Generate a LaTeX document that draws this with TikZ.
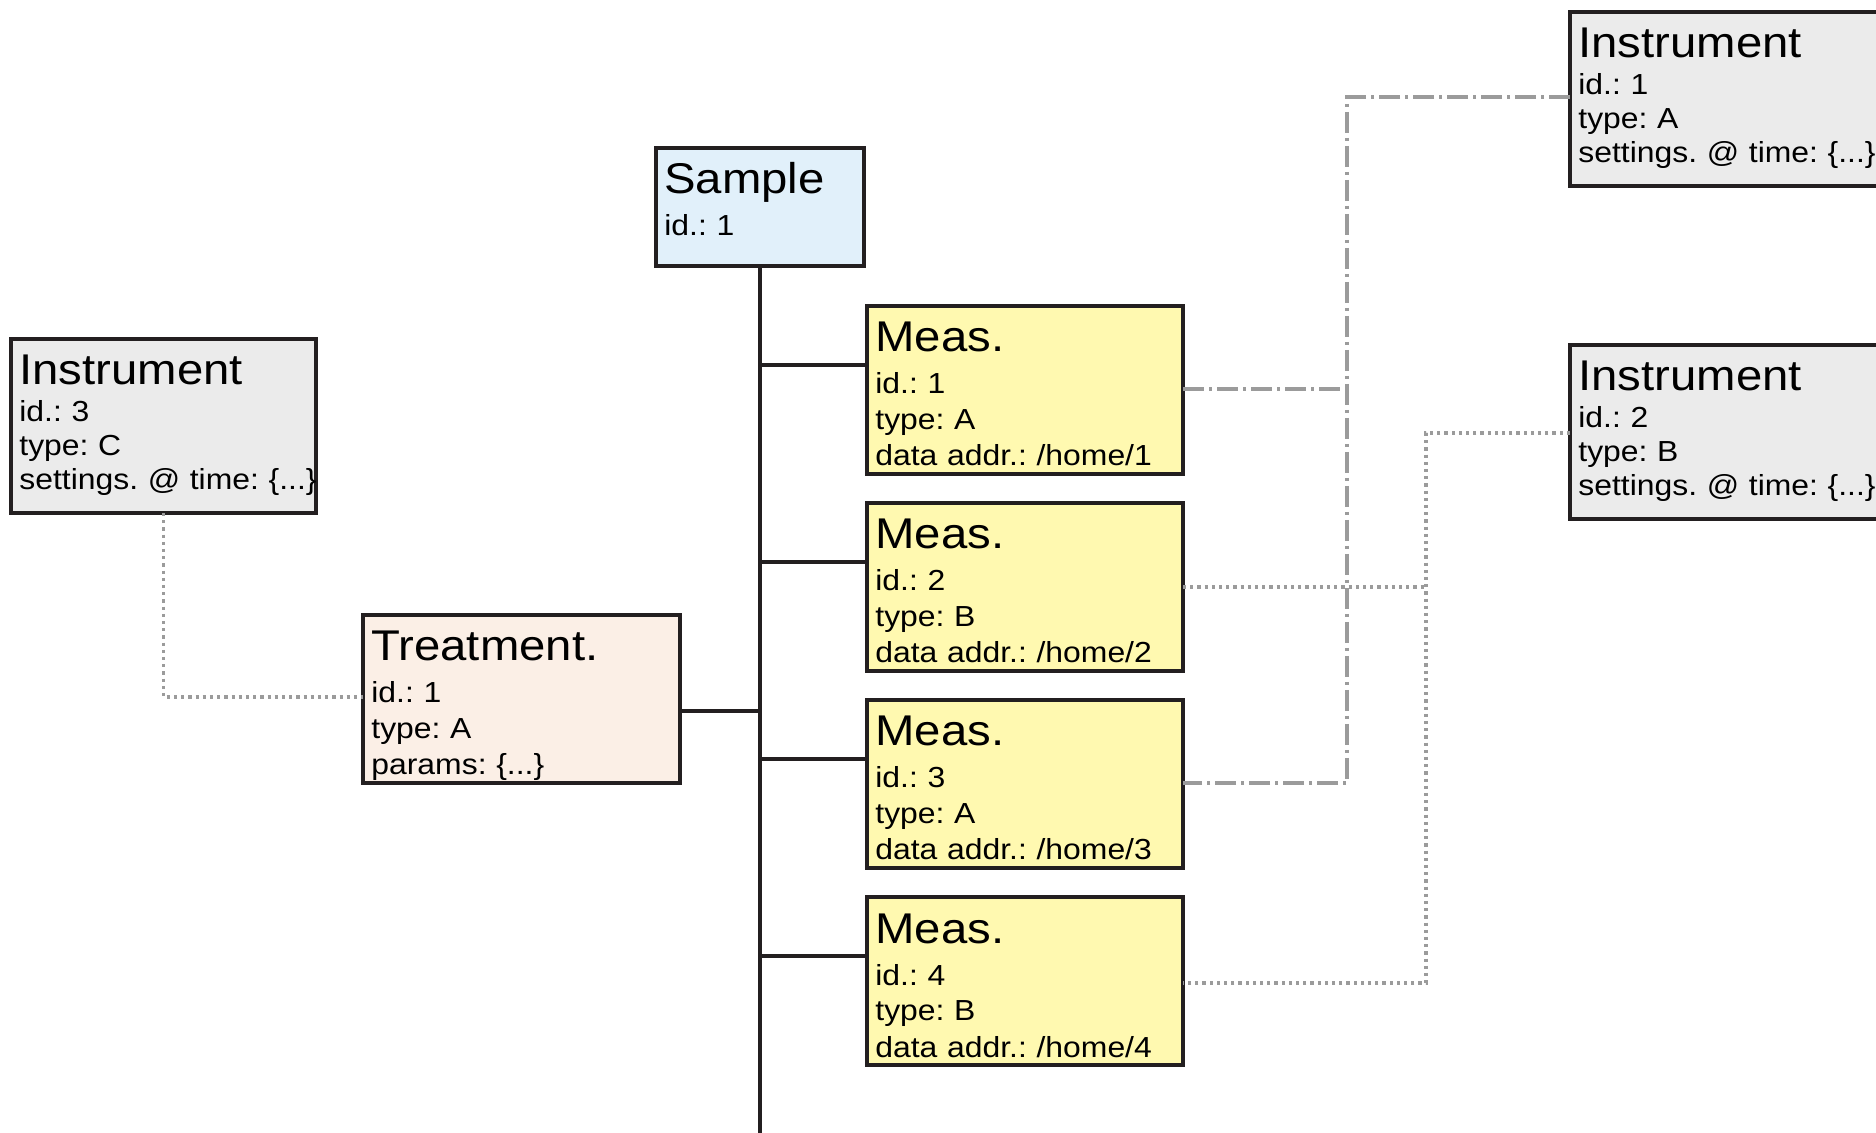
\documentclass[tikz,border=0pt]{standalone}
\usepackage{fontspec}
\setmainfont{Liberation Sans}[FakeStretch=1.1]
\usepackage{tikz}
\usetikzlibrary{positioning}
\frenchspacing

\definecolor{edgeblack}{HTML}{231F20}
\definecolor{samplefill}{HTML}{E1F0FA}
\definecolor{measfill}{HTML}{FFF9B0}
\definecolor{treatfill}{HTML}{FBEFE6}
\definecolor{instrfill}{HTML}{EBEBEB}
\definecolor{linkgray}{HTML}{9B9B9B}

\newcommand{\hd}[1]{{\fontsize{21.5}{24}\selectfont #1}}

\tikzset{
  card/.style={draw=edgeblack, line width=2.1pt, anchor=north west, inner sep=0pt, outer sep=0pt},
  samplebox/.style={card, fill=samplefill, minimum width=104pt, minimum height=59pt},
  measbox/.style={card, fill=measfill, minimum width=158pt, minimum height=84pt},
  treatbox/.style={card, fill=treatfill, minimum width=158.5pt, minimum height=84pt},
  instrbox/.style={card, fill=instrfill, minimum width=156pt, minimum height=87pt},
  txt/.style={anchor=base west, inner sep=0pt, text width=190pt, align=left,
    xshift=4pt, yshift=-23pt, font=\fontsize{14.5}{18}\selectfont},
  instrtxt/.style={txt, font=\fontsize{14.5}{17}\selectfont},
  tree/.style={draw=edgeblack, line width=1.6pt},
  dashdot link/.style={draw=linkgray, line width=1.6pt,
    dash pattern=on 10.5pt off 2.5pt on 1.5pt off 2.5pt},
  dotted link/.style={draw=linkgray, line width=1.6pt, dash pattern=on 1.6pt off 2pt},
}

\begin{document}
\begin{tikzpicture}[x=0.5pt, y=-0.5pt]
  \fill[white] (0,0) rectangle (1876,1133);
  \clip (0,0) rectangle (1876,1133);

  % root of the tree
  \node[samplebox, label={[txt]north west:{\hd{Sample}\\[3pt]id.: 1}}] (sample) at (656,148) {};

  % measurements, stacked on the right of the trunk
  \node[measbox, label={[txt]north west:{\hd{Meas.}\\[3pt]id.: 1\\type: A\\data addr.: /home/1}}] (m1) at (867,306) {};
  \node[measbox, below=14.5pt of m1, label={[txt]north west:{\hd{Meas.}\\[3pt]id.: 2\\type: B\\data addr.: /home/2}}] (m2) {};
  \node[measbox, below=14.5pt of m2, label={[txt]north west:{\hd{Meas.}\\[3pt]id.: 3\\type: A\\data addr.: /home/3}}] (m3) {};
  \node[measbox, below=14.5pt of m3, label={[txt]north west:{\hd{Meas.}\\[3pt]id.: 4\\type: B\\data addr.: /home/4}}] (m4) {};

  % treatment on the left of the trunk
  \node[treatbox, label={[txt]north west:{\hd{Treatment.}\\[3pt]id.: 1\\type: A\\params: \{...\}}}] (treat) at (363,615) {};

  % instruments
  \node[instrbox, minimum width=152.5pt, label={[instrtxt]north west:{\hd{Instrument}\\[1.5pt]id.: 3\\type: C\\settings. @ time: \{...\}}}] (i3) at (11,339) {};
  \node[instrbox, label={[instrtxt]north west:{\hd{Instrument}\\[1.5pt]id.: 1\\type: A\\settings. @ time: \{...\}}}] (i1) at (1570,12) {};
  \node[instrbox, label={[instrtxt]north west:{\hd{Instrument}\\[1.5pt]id.: 2\\type: B\\settings. @ time: \{...\}}}] (i2) at (1570,345) {};

  % tap points on the box edges
  \coordinate (m1r) at ([yshift=-41.5pt]m1.north east);
  \coordinate (m2r) at ([yshift=-42pt]m2.north east);
  \coordinate (m3r) at ([yshift=-41.5pt]m3.north east);
  \coordinate (m4r) at ([yshift=-43pt]m4.north east);
  \coordinate (i1l) at ([yshift=-42.5pt]i1.north west);
  \coordinate (i2l) at ([yshift=-44pt]i2.north west);
  \coordinate (busA) at (1347,0);
  \coordinate (busB) at (1426,0);
  \coordinate (ground) at (760,1140);

  % trunk and branches
  \draw[tree] (sample.south) -- (sample.south |- ground);
  \foreach \m in {m1,m2,m3,m4}
    \draw[tree] ([yshift=-29.5pt]\m.north west) -| (sample.south);
  \draw[tree] ([yshift=-48pt]treat.north east) -| (sample.south);

  % instrument links
  \draw[dotted link] (i3.south) |- ([yshift=-41pt]treat.north west);
  \draw[dashdot link] (i1l) -| (busA |- m3r) -- (m3r);
  \draw[dashdot link] (m1r) -- (busA |- m1r);
  \draw[dotted link] (i2l) -| (busB |- m4r) -- (m4r);
  \draw[dotted link] (m2r) -- (busB |- m2r);
\end{tikzpicture}
\end{document}
